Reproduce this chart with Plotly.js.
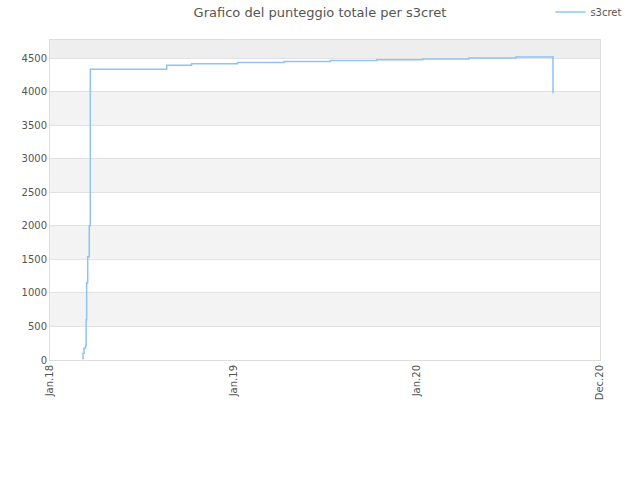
<!DOCTYPE html>
<html>
<head>
<meta charset="utf-8">
<script src="https://cdn.plot.ly/plotly-3.0.1.min.js"></script>
<style>
  html, body { margin: 0; padding: 0; background: #fff; }
  #chart { width: 640px; height: 480px; }
</style>
</head>
<body>
<div id="chart"></div>
<script>
// score history (step line)
const dates = [
    "2018-03-05", "2018-03-06", "2018-03-08", "2018-03-11", "2018-03-12",
    "2018-03-13", "2018-03-15", "2018-03-18", "2018-03-20", "2018-08-15",
    "2018-10-02", "2018-12-30", "2019-03-30", "2019-06-28", "2019-09-26",
    "2019-12-24", "2020-03-22", "2020-06-21", "2020-09-01", "2020-09-01"
];
const scores = [
    20, 100, 180, 220, 600,
    1150, 1540, 2000, 4335, 4392,
    4415, 4435, 4450, 4465, 4475,
    4488, 4500, 4515, 4530, 3975
];

const tickDates = ["2018-01-01", "2018-12-22", "2019-12-12", "2020-12-01"];
const tickLabels = ["Jan.18", "Jan.19", "Jan.20", "Dec.20"];
const yTicks = [0, 500, 1000, 1500, 2000, 2500, 3000, 3500, 4000, 4500];
const yTop = 4770;

// alternating background bands
const bands = [];
for (let i = 1; i < yTicks.length - 1; i += 2) {
    bands.push({
        type: "rect", xref: "paper", yref: "y", layer: "below",
        x0: 0, x1: 1, y0: yTicks[i], y1: yTicks[i + 1],
        fillcolor: "#f3f3f3", line: { width: 0 }
    });
}
bands.push({
    type: "rect", xref: "paper", yref: "y", layer: "below",
    x0: 0, x1: 1, y0: yTicks[yTicks.length - 1], y1: yTop,
    fillcolor: "#eeeeee", line: { width: 0 }
});

const trace = {
    x: dates,
    y: scores,
    name: "s3cret",
    type: "scatter",
    mode: "lines",
    line: { shape: "hv", color: "#8fc3f7", width: 1.5 }
};

const layout = {
    width: 640,
    height: 480,
    margin: { l: 50, r: 40, t: 40, b: 120, autoexpand: false },
    paper_bgcolor: "#ffffff",
    plot_bgcolor: "#ffffff",
    font: { family: "DejaVu Sans", size: 10, color: "#555555" },
    title: {
        text: "Grafico del punteggio totale per s3cret",
        font: { family: "DejaVu Sans", size: 13, color: "#555555" },
        x: 0.5, xanchor: "center", y: 0.975, yanchor: "middle"
    },
    showlegend: true,
    legend: {
        xref: "container", yref: "container",
        x: 0.86, y: 0.975, xanchor: "left", yanchor: "middle",
        bgcolor: "rgba(0,0,0,0)", font: { size: 10, color: "#555555" }
    },
    xaxis: {
        type: "date",
        range: ["2018-01-01", "2020-12-01"],
        tickvals: tickDates,
        ticktext: tickLabels,
        tickangle: -90,
        showgrid: false,
        showline: true, linecolor: "#dddddd", linewidth: 1, mirror: true,
        ticks: "", zeroline: false
    },
    yaxis: {
        range: [0, yTop],
        tickvals: yTicks,
        showgrid: true, gridcolor: "#e2e2e2", gridwidth: 1,
        showline: true, linecolor: "#dddddd", linewidth: 1, mirror: true,
        ticks: "", zeroline: false
    },
    shapes: bands
};

Plotly.newPlot("chart", [trace], layout, { displayModeBar: false, staticPlot: true });
</script>
</body>
</html>
